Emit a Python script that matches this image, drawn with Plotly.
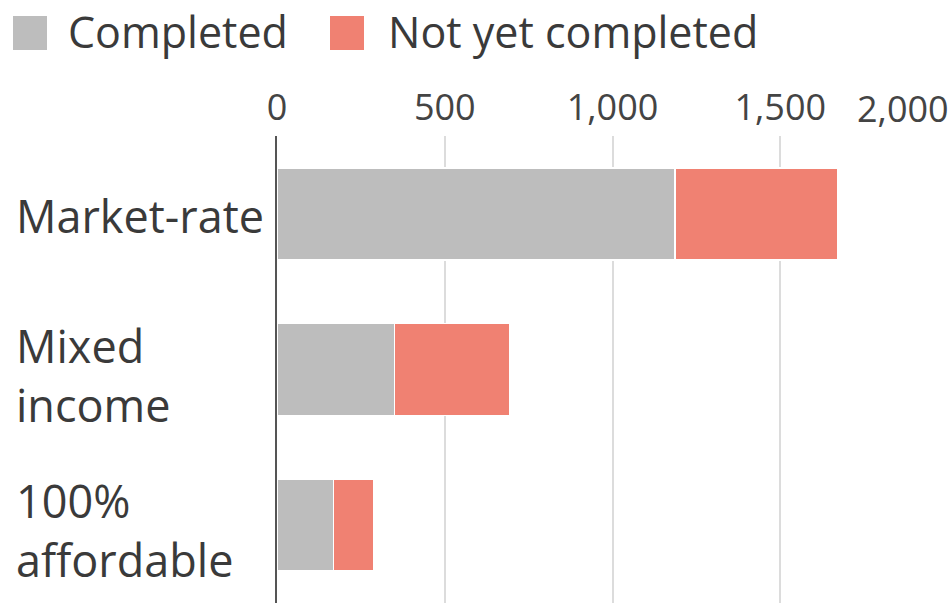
import plotly.graph_objects as go

categories = ["Market-rate", "Mixed income", "100% affordable"]
label_text = ["Market-rate", "Mixed<br>income", "100%<br>affordable"]
completed = [1186, 350, 168]
not_completed = [486, 344, 120]
tick_vals = [0, 500, 1000, 1500, 2000]
tick_text = ["0", "500", "1,000", "1,500", ""]
series_names = ["Completed", "Not yet completed"]
colors = ["#BDBDBD", "#F08172"]

W, H = 952, 603
L, R, T, B = 277, 4, 136, 0
pw, ph = W - L - R, H - T - B
FONT = "Open Sans"
TXT = "#3a3a3a"

fig = go.Figure()
for name, vals, col in zip(series_names, [completed, not_completed], colors):
    fig.add_trace(go.Bar(
        y=categories, x=vals, orientation="h", name=name,
        marker=dict(color=col, line=dict(color="white", width=1.5)),
        showlegend=False, hoverinfo="skip",
    ))

def px_x(p):
    return (p - L) / pw

def px_y(p):
    return 1 - (p - T) / ph

annotations = []
# category labels, left aligned
for cat, txt in zip(categories, label_text):
    multi = "<br>" in txt
    annotations.append(dict(
        text=txt, xref="paper", x=px_x(14), xanchor="left", align="left",
        yref="y", y=cat, yanchor="middle", yshift=-5 if multi else -2,
        showarrow=False, font=dict(family=FONT, size=45, color=TXT),
    ))
# right-aligned last tick label
annotations.append(dict(
    text="2,000", xref="x", x=tick_vals[-1], xanchor="right", xshift=3,
    yref="paper", y=px_y(108), yanchor="middle",
    showarrow=False, font=dict(family=FONT, size=36, color="#444"),
))
# legend
leg_text_x = [66, 386]
leg_box_x = [13, 330]
shapes = []
for name, col, tx, bx in zip(series_names, colors, leg_text_x, leg_box_x):
    annotations.append(dict(
        text=name, xref="paper", x=px_x(tx), xanchor="left",
        yref="paper", y=px_y(31), yanchor="middle",
        showarrow=False, font=dict(family=FONT, size=43, color=TXT),
    ))
    shapes.append(dict(
        type="rect", xref="paper", yref="paper",
        x0=px_x(bx), x1=px_x(bx + 34), y0=px_y(50), y1=px_y(16),
        fillcolor=col, line=dict(width=0),
    ))

fig.update_layout(
    width=W, height=H, barmode="stack", bargap=0.41,
    margin=dict(l=L, r=R, t=T, b=B),
    plot_bgcolor="white", paper_bgcolor="white",
    annotations=annotations, shapes=shapes,
    xaxis=dict(
        side="top", range=[0, 2000], tickvals=tick_vals, ticktext=tick_text,
        showgrid=True, gridcolor="#dcdcdc", gridwidth=1.5, zeroline=False,
        ticks="outside", ticklen=1, tickcolor="rgba(0,0,0,0)",
        tickfont=dict(family=FONT, size=36, color="#444"),
        fixedrange=True,
    ),
    yaxis=dict(
        autorange="reversed", showticklabels=False, showgrid=False,
        showline=True, linecolor="#555", linewidth=2, ticks="",
        fixedrange=True,
    ),
)

fig.write_html(
    "out.html",
    config={"displayModeBar": False},
    post_script="document.body.style.margin='0';document.body.style.overflow='hidden';",
)
